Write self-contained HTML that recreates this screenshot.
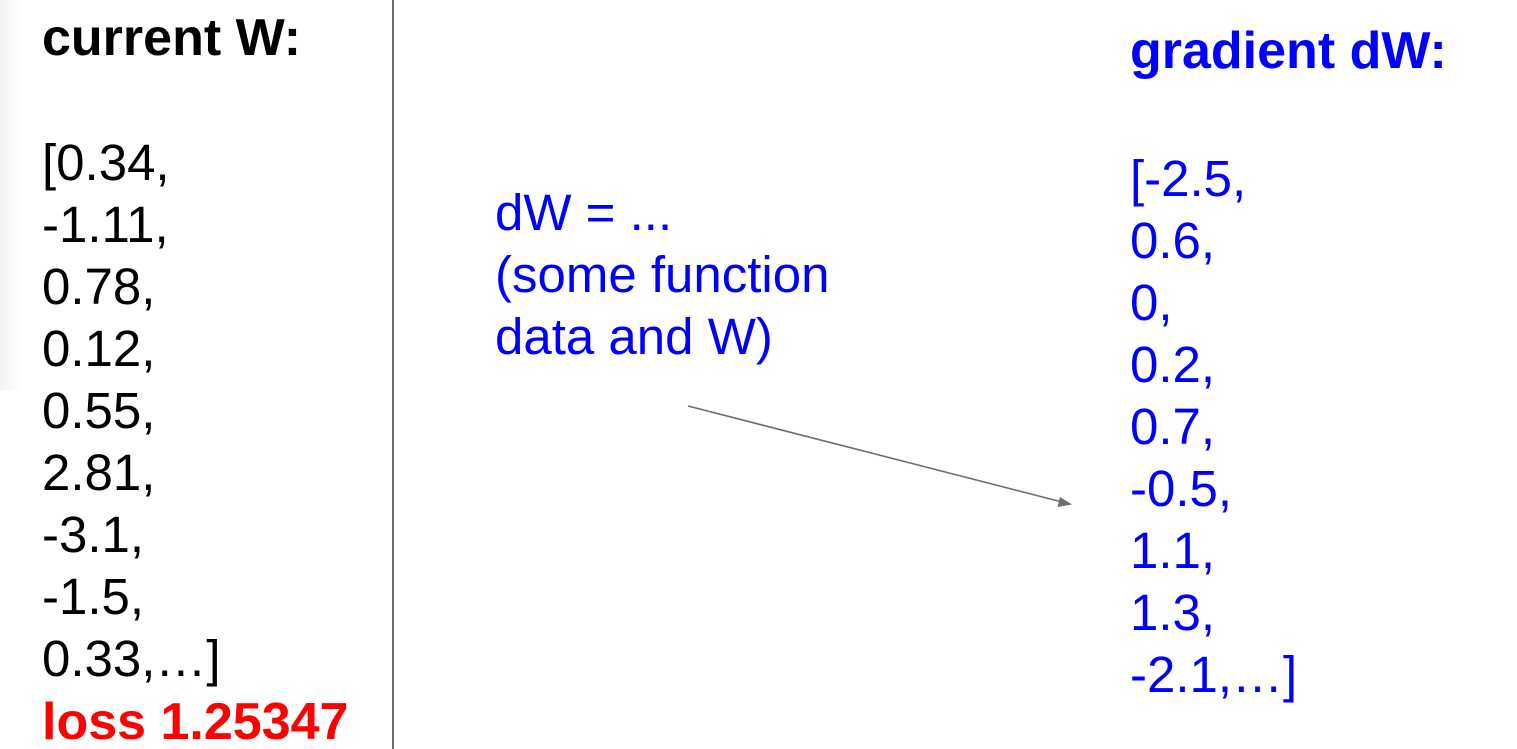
<!DOCTYPE html>
<html><head><meta charset="utf-8"><style>
html,body{margin:0;padding:0;background:#fff;}
svg{display:block;}
text{font-family:"Liberation Sans",Arial,sans-serif;}
</style></head><body>
<svg width="1517" height="749" viewBox="0 0 1517 749" xmlns="http://www.w3.org/2000/svg">
<defs><linearGradient id="sh" x1="0" x2="1" y1="0" y2="0"><stop offset="0" stop-color="#f2f2f2"/><stop offset="1" stop-color="#ffffff"/></linearGradient></defs>
<rect x="0" y="0" width="1517" height="749" fill="#fff"/>
<rect x="0" y="0" width="22" height="390" fill="url(#sh)"/>
<line x1="393" y1="0" x2="393" y2="749" stroke="#6e6e6e" stroke-width="2"/>
<g font-size="52" font-weight="bold" fill="#000"><text x="42" y="55">current W:</text></g>
<g font-size="51" fill="#000">
<text x="42" y="180">[0.34,</text>
<text x="42" y="242">-1.11,</text>
<text x="42" y="304">0.78,</text>
<text x="42" y="366">0.12,</text>
<text x="42" y="428">0.55,</text>
<text x="42" y="490">2.81,</text>
<text x="42" y="552">-3.1,</text>
<text x="42" y="614">-1.5,</text>
<text x="42" y="676">0.33,…]</text>
</g>
<text x="42" y="739" font-size="52" font-weight="bold" fill="#ff0000">loss 1.25347</text>
<text x="1130" y="68" font-size="52" font-weight="bold" fill="#0000ff">gradient dW:</text>
<g font-size="51" fill="#0000ff">
<text x="1130" y="196">[-2.5,</text>
<text x="1130" y="258">0.6,</text>
<text x="1130" y="320">0,</text>
<text x="1130" y="382">0.2,</text>
<text x="1130" y="444">0.7,</text>
<text x="1130" y="506">-0.5,</text>
<text x="1130" y="568">1.1,</text>
<text x="1130" y="630">1.3,</text>
<text x="1130" y="692">-2.1,…]</text>
<text x="495" y="230">dW = ...</text>
<text x="495" y="292">(some function</text>
<text x="495" y="354">data and W)</text>
</g>
<line x1="688" y1="406" x2="1062" y2="502" stroke="#6e6e6e" stroke-width="1.6"/>
<polygon points="1072,504.5 1060,497 1057.5,507" fill="#6e6e6e"/>
</svg>
</body></html>
